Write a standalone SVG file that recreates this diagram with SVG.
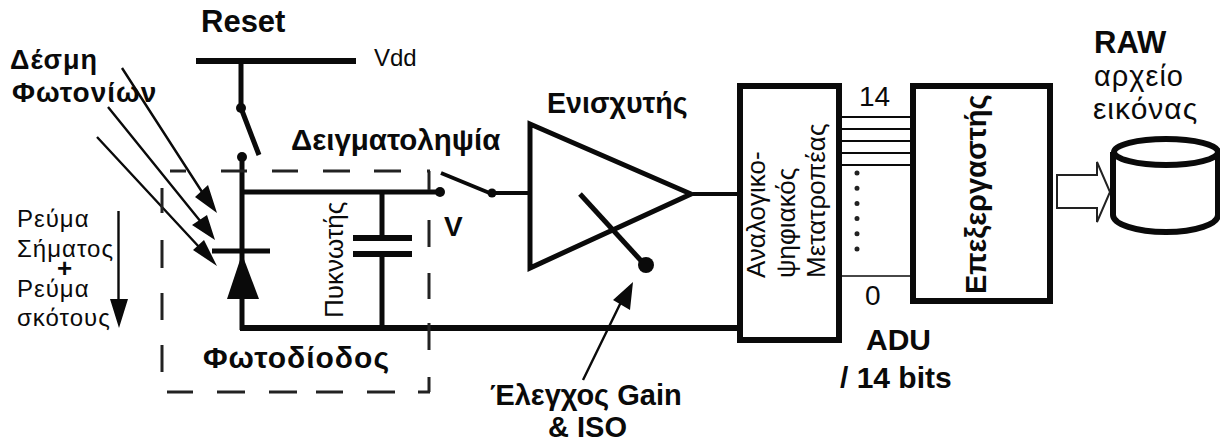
<svg xmlns="http://www.w3.org/2000/svg" width="1220" height="443" viewBox="0 0 1220 443">
<style>
text{font-family:"Liberation Sans",Arial,sans-serif;fill:#0a0a0a}
.b{font-weight:bold}
.w{fill:none;stroke:#0a0a0a;stroke-linecap:butt;stroke-linejoin:miter}
.d{fill:none;stroke:#222;stroke-width:3}
.f{fill:#0a0a0a;stroke:none}
</style>
<rect width="1220" height="443" fill="#fff"/>
<g id="connectors">
<path class="w" stroke-width="6" d="M196 61H356"/>
<path class="w" stroke-width="5" d="M241 61V108M241 108L259 155M242 157V330M240 192H440M382 192V238M382 254V328M212 251H270"/>
<path class="w" stroke-width="6" d="M353 238H412M353 254H412"/>
<path class="w" stroke-width="6" d="M240 328H740"/>
<path class="w" stroke-width="4" d="M441 173L492 194M492 193H531M693 194H741"/>
<path class="w" stroke-width="5" d="M580 194L645 265"/>
<path class="w" stroke-width="2.4" d="M122 68L204 195M108 107L201 222M97 137L200 248M118.500 211V305M583 380L623 298"/>
<path class="w" stroke-width="2" d="M841 117H912M841 129H912M841 141H912M841 153H912M841 165H912"/>
<path class="w" stroke-width="1.6" d="M841 276H912"/>
<path class="f" d="M217 213L195 197L208 185ZM215 240L192 225L207 215ZM217 266L193 250L204 240ZM119 328L110 299H128ZM633 282L613 300L630 310Z"/>
<circle class="f" cx="241" cy="108" r="5"/>
<circle class="f" cx="242" cy="157" r="5"/>
<circle class="f" cx="440" cy="192" r="5"/>
<circle class="f" cx="492" cy="193" r="4.5"/>
<path class="d" d="M170 171H186M221 171H247M272 171H298M323 171H350M374 171H401M427 171H430M162 188V213M162 240V268M162 293V320M162 345V372M167 392H193M217 392H245M269 392H297M316 392H343M367 392H395M418 392H430M429 171V190M429 220V247M429 273V299M429 323V350M429 377V392"/>
<path d="M857 173V250" fill="none" stroke="#222" stroke-width="5" stroke-linecap="round" stroke-dasharray="0 15.2"/>
</g>
<g id="diode"><path class="f" d="M242 254L227 299H259Z"/></g>
<g id="amplifier"><path class="w" stroke-width="5" d="M530 124V268L691 194Z"/><circle class="f" cx="646" cy="265" r="8"/></g>
<g id="adc"><rect class="w" x="740" y="86" width="99" height="254" stroke-width="6"/>
<g font-size="26"><text transform="translate(765,278) rotate(-90)">Αναλογικο-</text><text transform="translate(795,278) rotate(-90)">ψηφιακός</text><text transform="translate(825,278) rotate(-90)">Μετατροπέας</text></g></g>
<g id="processor"><rect class="w" x="913" y="86" width="137" height="215" stroke-width="6"/>
<text class="b" transform="translate(986,294) rotate(-90)" font-size="29">Επεξεργαστής</text></g>
<g id="file-arrow"><path fill="#fff" stroke="#222" stroke-width="2" d="M1057 175H1097V162L1110 192L1097 222V208H1057Z"/></g>
<g id="storage"><path fill="#fff" stroke="#0a0a0a" stroke-width="6" d="M1113 152V215C1113 224 1136 232 1166 232S1218 224 1218 215V152"/><ellipse cx="1166" cy="152" rx="52" ry="13" fill="#fff" stroke="#0a0a0a" stroke-width="6"/></g>
<g id="labels">
<text class="b" x="201" y="32" font-size="31">Reset</text>
<text x="374" y="66" font-size="24" fill="#222">Vdd</text>
<text class="b" x="10" y="69" font-size="27" letter-spacing="1">Δέσμη</text>
<text class="b" x="12" y="102" font-size="28" letter-spacing="1">Φωτονίων</text>
<text class="b" x="291" y="150" font-size="29.500">Δειγματοληψία</text>
<text class="b" x="547" y="113" font-size="28.600">Ενισχυτής</text>
<text class="b" x="444" y="236" font-size="28">V</text>
<text x="17" y="227" font-size="24" letter-spacing="1">Ρεύμα</text>
<text x="17" y="257" font-size="24" letter-spacing="1">Σήματος</text>
<text class="b" x="57" y="277" font-size="26">+</text>
<text x="17" y="297" font-size="24" letter-spacing="1">Ρεύμα</text>
<text x="17" y="326" font-size="24" letter-spacing="1">σκότους</text>
<text transform="translate(343,318) rotate(-90)" font-size="26">Πυκνωτής</text>
<text class="b" x="203" y="368" font-size="30" letter-spacing="1">Φωτοδίοδος</text>
<text class="b" x="490" y="405" font-size="29">Έλεγχος Gain</text>
<text class="b" x="548" y="437" font-size="29">&amp; ISO</text>
<text x="859" y="106" font-size="28">14</text>
<text x="865" y="305" font-size="28">0</text>
<text class="b" x="866" y="350" font-size="30">ADU</text>
<text class="b" x="840" y="388" font-size="30">/ 14 bits</text>
<text class="b" x="1094" y="53" font-size="31">RAW</text>
<text x="1094" y="86" font-size="29" letter-spacing="1">αρχείο</text>
<text x="1093" y="119" font-size="30" letter-spacing="1">εικόνας</text>
</g>
</svg>
